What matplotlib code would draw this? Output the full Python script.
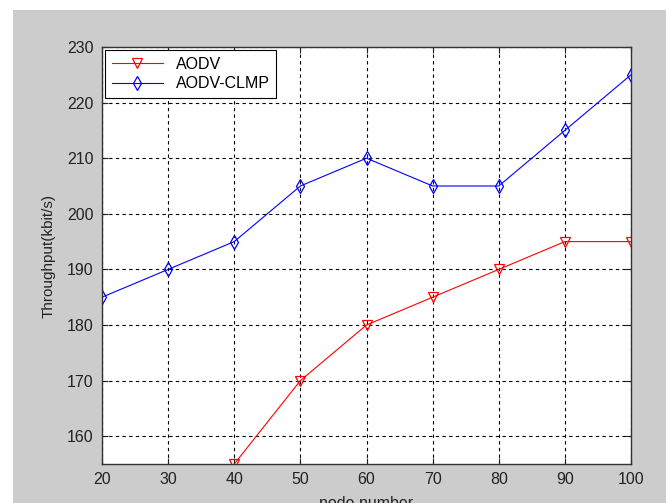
import matplotlib
matplotlib.use("Agg")
import matplotlib.pyplot as plt
from matplotlib.patches import Rectangle

nodeNumbers = [20, 30, 40, 50, 60, 70, 80, 90, 100]
aodvNodes = [40, 50, 60, 70, 80, 90, 100]
aodvThroughput = [155, 170, 180, 185, 190, 195, 195]
clmpThroughput = [185, 190, 195, 205, 210, 205, 205, 215, 225]
yTicks = [160, 170, 180, 190, 200, 210, 220, 230]

plt.rcParams['font.family'] = ['Liberation Sans', 'DejaVu Sans']
plt.rcParams['font.size'] = 11

fig = plt.figure(figsize=(6.66, 5.03), dpi=100)
fig.patch.set_facecolor('white')
# matlab-style grey figure background, with a white strip left and top
fig.patches.append(Rectangle((13 / 666, 0), 1, 1 - 10 / 503, transform=fig.transFigure,
                             facecolor='#cccccc', edgecolor='none', zorder=-1))

ax = fig.add_axes([102 / 666, 1 - 464 / 503, (631 - 102) / 666, (464 - 47) / 503])
ax.plot(aodvNodes, aodvThroughput, color='#ff0000', lw=0.8, marker='v', ms=7,
        mfc='none', mec='#ff0000', mew=0.9, label='AODV')
ax.plot(nodeNumbers, clmpThroughput, color='#0000ff', lw=0.8, marker='d', ms=7,
        mfc='none', mec='#0000ff', mew=0.9, label='AODV-CLMP')

ax.set_xlim(20, 100)
ax.set_ylim(155, 230)
ax.set_xticks(nodeNumbers)
ax.set_yticks(yTicks)
ax.grid(True, color='black', linestyle=(0, (3, 3)), linewidth=0.8)
ax.tick_params(direction='in', top=True, right=True, length=4, colors='#222222',
               labelsize=11.5, pad=6)
for s in ax.spines.values():
    s.set_linewidth(1.0)
    s.set_color('#333333')

ax.set_xlabel('node number', fontsize=11.5, labelpad=6, color='#222222')
ax.set_ylabel('Throughput(kbit/s)', fontsize=11, labelpad=8, color='#222222')

leg = ax.legend(loc='upper left', borderaxespad=0.2, handlelength=3.2, fancybox=False,
                framealpha=1, edgecolor='black', fontsize=11.5, borderpad=0.4,
                labelspacing=0.3)
leg.get_frame().set_linewidth(0.8)

fig.savefig('out.png', dpi=100, facecolor=fig.get_facecolor())
